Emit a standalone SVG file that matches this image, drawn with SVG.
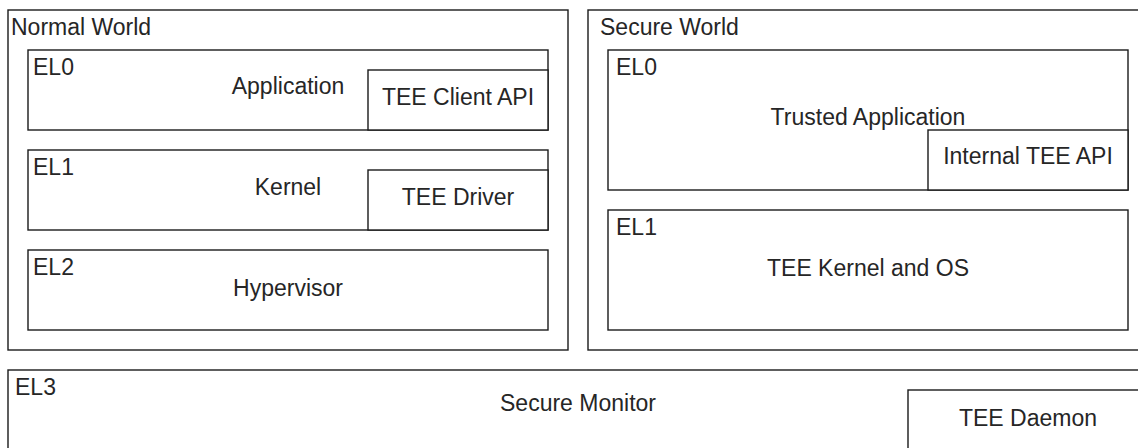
<svg xmlns="http://www.w3.org/2000/svg" width="1138" height="448" viewBox="0 0 1138 448">
<style>
rect{fill:#fff;stroke:#1a1a1a;stroke-width:1.4}
text{font-family:"Liberation Sans",Arial,sans-serif;font-size:23px;fill:#262626}
.c{text-anchor:middle}
</style>
<rect x="0" y="0" width="1138" height="448" style="stroke:none"/>
<g id="normal-world">
<rect x="8" y="10" width="560" height="340"/>
<text x="11" y="35">Normal World</text>
</g>
<g id="nw-el0">
<rect x="28" y="50" width="520" height="80"/>
<text x="33" y="75">EL0</text>
<text class="c" x="288" y="94">Application</text>
</g>
<g id="tee-client-api">
<rect x="368" y="70" width="180" height="60"/>
<text class="c" x="458" y="105">TEE Client API</text>
</g>
<g id="nw-el1">
<rect x="28" y="150" width="520" height="80"/>
<text x="33" y="175">EL1</text>
<text class="c" x="288" y="195">Kernel</text>
</g>
<g id="tee-driver">
<rect x="368" y="170" width="180" height="60"/>
<text class="c" x="458" y="205">TEE Driver</text>
</g>
<g id="nw-el2">
<rect x="28" y="250" width="520" height="80"/>
<text x="33" y="275">EL2</text>
<text class="c" x="288" y="296">Hypervisor</text>
</g>
<g id="secure-world">
<rect x="588" y="10" width="570" height="340"/>
<text x="600" y="35">Secure World</text>
</g>
<g id="sw-el0">
<rect x="608" y="50" width="520" height="140"/>
<text x="616" y="75">EL0</text>
<text class="c" x="868" y="125">Trusted Application</text>
</g>
<g id="internal-tee-api">
<rect x="928" y="130" width="200" height="60"/>
<text class="c" x="1028" y="164">Internal TEE API</text>
</g>
<g id="sw-el1">
<rect x="608" y="210" width="520" height="120"/>
<text x="616" y="235">EL1</text>
<text class="c" x="868" y="276">TEE Kernel and OS</text>
</g>
<g id="el3">
<rect x="8" y="370" width="1150" height="100"/>
<text x="15" y="395">EL3</text>
<text class="c" x="578" y="411">Secure Monitor</text>
</g>
<g id="tee-daemon">
<rect x="908" y="390" width="250" height="80"/>
<text class="c" x="1028" y="426">TEE Daemon</text>
</g>
<g id="connectors"></g>
</svg>
